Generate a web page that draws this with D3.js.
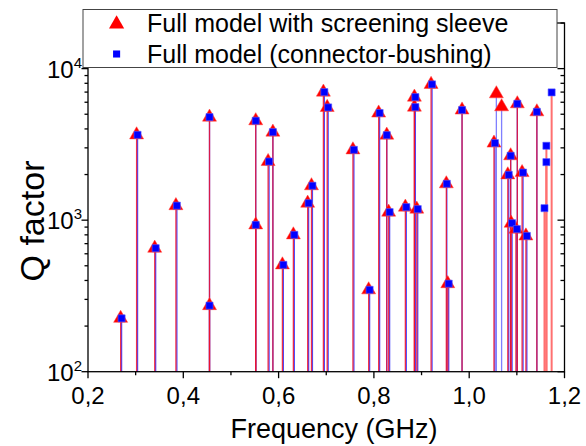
<!DOCTYPE html>
<html><head><meta charset="utf-8">
<script src="https://cdn.jsdelivr.net/npm/d3@7"></script>
<style>body{margin:0;background:#fff} svg{display:block;font-family:"Liberation Sans",Arial,Helvetica,sans-serif}</style>
</head><body><svg id="c" width="586" height="446"></svg>
<script>
// Full model with screening sleeve (red triangles)
const redFreq = [0.2685,0.302,0.340,0.3845,0.455,0.455,0.552,0.552,0.578,0.588,0.608,0.631,0.661,0.669,0.694,0.702,0.756,0.789,0.810,0.827,0.831,0.866,0.885,0.885,0.890,0.920,0.952,0.955,0.985,1.052,1.057,1.068,1.081,1.087,1.088,1.098,1.101,1.111,1.119,1.142];
const redQ    = [225,3656,653,1247,4786,273,4530,931,2438,3811,507,800,1294,1687,7000,5546,2911,347,5093,3640,1130,1219,6486,5572,1183,7870,1738,381,5333,3226,6823,5600,1991,2661,955,873,5862,2061,787,5188];
// Full model (connector-bushing) (blue squares)
const blueFreq = [0.2705,0.304,0.342,0.3865,0.455,0.455,0.552,0.552,0.580,0.588,0.610,0.633,0.663,0.671,0.696,0.704,0.758,0.791,0.812,0.827,0.833,0.868,0.887,0.887,0.892,0.922,0.953,0.957,0.985,1.054,1.083,1.087,1.090,1.100,1.101,1.113,1.121,1.142,1.158,1.162,1.162,1.173];
const blueQ    = [225,3656,653,1247,4786,273,4530,931,2438,3811,507,800,1294,1687,7000,5546,2911,347,5093,3640,1130,1219,6486,5572,1183,7870,1738,381,5333,3226,1991,2661,955,873,5862,2061,787,5188,1200,3097,2415,6966];

const xMajor = [0.2,0.4,0.6,0.8,1.0,1.2];
const xLabels = ["0,2","0,4","0,6","0,8","1,0","1,2"];
const xMinor = [0.3,0.5,0.7,0.9,1.1];
const yMajor = [100,1000,10000];
const yExp = ["2","3","4"];
const yMinor = [200,300,400,500,600,700,800,900,2000,3000,4000,5000,6000,7000,8000,9000,20000];
const legendLabels = ["Full model with screening sleeve","Full model (connector-bushing)"];
const xTitle = "Frequency (GHz)";
const yTitle = "Q factor";

const L = 88, R = 564.5, T = 23, B = 371.7;
const x = d3.scaleLinear().domain([0.2, 1.2]).range([L, R]);
const y = d3.scaleLog().domain([100, 20000]).range([B, T]);
const svg = d3.select("#c");

const red = redFreq.map((f, i) => ({f, q: redQ[i]}));
const blue = blueFreq.map((f, i) => ({f, q: blueQ[i]}));
const matched = (p, others) => others.some(o => Math.abs(o.f - p.f) < 0.004 && Math.abs(Math.log10(o.q / p.q)) < 0.03);

// stems: blue first, red on top
const stems = svg.append("g");
stems.selectAll(".bs").data(blue).join("line")
  .attr("x1", d => x(d.f)).attr("x2", d => x(d.f))
  .attr("y1", y(100)).attr("y2", d => y(d.q))
  .attr("stroke", d => matched(d, red) ? "#4a4aff" : "#ff7070")
  .attr("stroke-width", d => matched(d, red) ? 1.3 : 2);
stems.selectAll(".rs").data(red).join("line")
  .attr("x1", d => x(d.f)).attr("x2", d => x(d.f))
  .attr("y1", y(100)).attr("y2", d => y(d.q))
  .attr("stroke", d => matched(d, blue) ? "#f0102a" : "#6a6aff")
  .attr("stroke-opacity", 0.85)
  .attr("stroke-width", 1.3);

// markers
svg.append("g").selectAll("path").data(red).join("path")
  .attr("transform", d => `translate(${x(d.f)},${y(d.q)})`)
  .attr("d", d3.symbol(d3.symbolTriangle, 85))
  .attr("fill", "#ff0000").attr("stroke", "#ff4040").attr("stroke-width", 0.5);
svg.append("g").selectAll("path").data(blue).join("path")
  .attr("transform", d => `translate(${x(d.f)},${y(d.q)})`)
  .attr("d", d3.symbol(d3.symbolSquare, 50))
  .attr("fill", "#0000ff").attr("stroke", "#5a5aff").attr("stroke-width", 0.6);

// frame
const ax = svg.append("g").attr("stroke", "#000").attr("stroke-width", 1.3).attr("fill", "none");
ax.append("rect").attr("x", L).attr("y", T).attr("width", R - L).attr("height", B - T);
xMajor.forEach(v => ax.append("line").attr("x1", x(v)).attr("x2", x(v)).attr("y1", B).attr("y2", B + 6.5));
xMinor.forEach(v => ax.append("line").attr("x1", x(v)).attr("x2", x(v)).attr("y1", B).attr("y2", B + 3.5));
yMajor.forEach(v => ax.append("line").attr("x1", L - 6.5).attr("x2", L).attr("y1", y(v)).attr("y2", y(v)));
yMinor.forEach(v => ax.append("line").attr("x1", L - 3.5).attr("x2", L).attr("y1", y(v)).attr("y2", y(v)));
yMajor.forEach(v => ax.append("line").attr("x1", R - 7).attr("x2", R).attr("y1", y(v)).attr("y2", y(v)));
yMinor.forEach(v => ax.append("line").attr("x1", R - 4).attr("x2", R).attr("y1", y(v)).attr("y2", y(v)));

// tick labels
svg.append("g").selectAll("text").data(xMajor).join("text")
  .attr("x", d => x(d)).attr("y", 404).attr("text-anchor", "middle")
  .attr("font-size", 24).text((d, i) => xLabels[i]);
const yl = svg.append("g").selectAll("text").data(yMajor).join("text")
  .attr("x", 82).attr("y", d => y(d) + 9).attr("text-anchor", "end").attr("font-size", 24);
yl.append("tspan").text("10");
yl.append("tspan").attr("dy", -10).attr("font-size", 15).text((d, i) => yExp[i]);

// axis titles
svg.append("text").attr("x", 334).attr("y", 438).attr("text-anchor", "middle")
  .attr("font-size", 27).text(xTitle);
svg.append("text").attr("transform", "translate(44,221) rotate(-90)").attr("text-anchor", "middle")
  .attr("font-size", 34).text(yTitle);

// legend
const lg = svg.append("g");
lg.append("rect").attr("x", 83).attr("y", 9.5).attr("width", 474).attr("height", 58)
  .attr("fill", "#fff").attr("stroke", "#444").attr("stroke-width", 1);
lg.append("path").attr("transform", "translate(116.6,24)").attr("d", d3.symbol(d3.symbolTriangle, 100)).attr("fill", "#ff0000");
lg.append("path").attr("transform", "translate(116.6,54)").attr("d", d3.symbol(d3.symbolSquare, 50)).attr("fill", "#0000ff");
lg.selectAll("text").data(legendLabels).join("text")
  .attr("x", 147).attr("y", (d, i) => 32 + i * 30.5).attr("font-size", 25).text(d => d);
</script></body></html>
